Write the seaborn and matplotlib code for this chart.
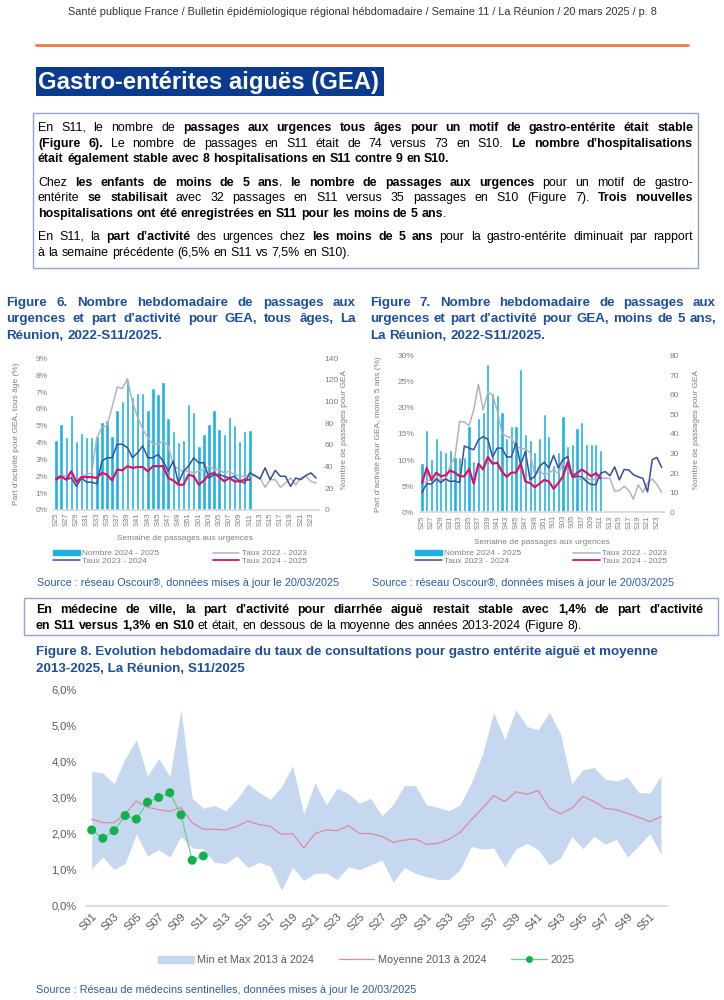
import matplotlib
matplotlib.use("Agg")
import matplotlib.pyplot as plt
import seaborn as sns
from matplotlib.patches import Rectangle, Patch
from matplotlib.lines import Line2D
from matplotlib.font_manager import FontProperties

W, H = 724, 1000

# ---------------- data ----------------
weeks_gea = [f"S{w:02d}" for w in list(range(25, 53)) + list(range(1, 25))]
weeks_sent = [f"S{w:02d}" for w in range(1, 53)]

# Figure 6 - tous ages
nb_tous = [65, 79, 67, 88, 64, 71, 67, 67, 68, 81, 83, 68, 92, 101, 120, 104, 108, 108, 92, 113,
           107, 118, 85, 73, 63, 65, 98, 90, 59, 70, 79, 92, 75, 70, 86, 78, 64, 73, 74]
taux_tous_2223 = [1.9, 2.1, 2.0, 1.9, 1.7, 2.0, 2.1, 2.2, 4.3, 4.9, 5.0, 6.1, 7.3, 7.2, 7.8, 6.4,
                  5.5, 4.8, 4.3, 3.9, 3.9, 4.1, 3.8, 2.7, 2.4, 2.3, 2.3, 2.2, 2.3, 2.4, 2.6, 2.4,
                  2.4, 2.2, 2.3, 2.1, 2.0, 2.0, 2.1, 2.0, 1.9, 1.35, 1.8, 1.8, 1.35, 1.6, 1.9, 1.5,
                  1.9, 2.0, 1.7, 1.6]
taux_tous_2324 = [1.9, 2.0, 1.8, 1.9, 1.4, 1.9, 1.65, 1.65, 1.55, 2.9, 3.1, 3.1, 3.9, 3.9, 3.7, 3.1,
                  3.4, 3.8, 3.1, 3.1, 3.3, 2.9, 2.3, 2.9, 1.6, 2.3, 2.6, 3.1, 2.8, 2.8, 1.9, 2.1,
                  2.1, 2.0, 1.9, 2.0, 1.7, 1.6, 2.2, 2.05, 1.85, 2.5, 1.8, 2.35, 2.0, 2.0, 1.4, 1.9,
                  1.8, 2.05, 2.2, 1.9]
taux_tous_2425 = [1.8, 2.0, 1.8, 2.3, 1.65, 1.95, 1.95, 1.95, 1.9, 2.2, 2.1, 1.75, 2.4, 2.35, 2.6,
                  2.5, 2.55, 2.55, 2.3, 2.6, 2.6, 2.6, 1.9, 1.75, 1.5, 1.5, 2.1, 2.0, 1.5, 1.75,
                  2.1, 2.2, 1.95, 1.7, 1.9, 1.7, 1.7, 1.8, 1.8]

# Figure 7 - moins de 5 ans
nb_m5 = [25, 42, 27, 38, 32, 31, 32, 28, 28, 28, 44, 26, 48, 51, 76, 61, 60, 51, 38, 44,
         44, 73, 40, 37, 31, 38, 50, 39, 24, 31, 49, 34, 35, 43, 46, 35, 35, 35, 32]
taux_m5_2223 = [5.5, 6.0, 6.3, 6.0, 6.6, 6.0, 9.0, 10.6, 17.4, 17.3, 16.6, 19.6, 24.5, 19.6, 23.0,
                22.5, 19.5, 15.2, 14.5, 14.3, 12.5, 12.3, 12.1, 11.5, 7.0, 8.0, 7.2, 7.5, 8.2,
                7.4, 9.5, 8.0, 7.0, 6.5, 6.3, 6.6, 6.2, 6.4, 6.6, 6.5, 6.5, 4.0, 4.2, 5.0, 4.2,
                2.5, 5.3, 3.8, 5.6, 6.4, 5.3, 3.8]
taux_m5_2324 = [3.8, 5.5, 5.4, 6.4, 5.7, 6.4, 5.9, 6.0, 5.7, 12.7, 12.3, 12.0, 13.9, 14.5, 14.0,
                10.6, 12.3, 12.3, 10.6, 10.6, 13.3, 9.1, 11.7, 6.2, 6.9, 8.8, 9.6, 8.5, 10.9, 8.5,
                10.1, 10.7, 6.7, 6.9, 6.8, 5.9, 5.3, 5.3, 7.5, 7.8, 7.0, 8.7, 6.2, 8.2, 8.1, 7.2,
                6.8, 6.5, 3.9, 10.1, 10.5, 8.6]
taux_m5_2425 = [5.6, 8.5, 6.2, 7.6, 6.9, 7.1, 8.0, 7.6, 6.9, 6.9, 8.3, 5.5, 9.3, 8.2, 10.6, 9.3,
                9.5, 7.8, 6.8, 7.6, 7.6, 9.3, 5.9, 5.6, 4.8, 5.5, 6.2, 5.9, 4.5, 5.6, 6.9, 9.6,
                6.9, 7.5, 8.2, 7.6, 6.9, 7.5, 6.5]

# Figure 8 - medecins sentinelles
sent_min = [1.03, 1.35, 1.0, 1.17, 1.99, 1.38, 1.55, 1.35, 1.92, 1.6, 1.57, 1.2, 1.17, 1.38, 1.06,
            1.2, 1.1, 0.43, 1.06, 0.7, 0.9, 0.9, 0.73, 1.08, 1.0, 1.13, 1.27, 0.65, 1.06, 0.9,
            0.8, 0.73, 0.73, 1.0, 1.64, 1.57, 1.6, 1.08, 1.57, 1.73, 1.55, 1.13, 1.32, 1.92,
            1.58, 1.92, 1.71, 1.84, 1.35, 1.66, 2.0, 1.43]
sent_max = [3.72, 3.68, 3.38, 4.08, 4.6, 3.6, 4.08, 3.58, 5.43, 2.98, 2.7, 2.78, 2.63, 2.95, 3.38,
            3.14, 2.95, 3.3, 3.88, 2.55, 3.4, 2.8, 3.26, 3.1, 2.84, 2.98, 2.49, 2.8, 3.33, 3.33,
            2.8, 2.73, 2.63, 2.8, 3.4, 4.19, 5.36, 4.6, 5.43, 4.97, 4.88, 5.36, 4.76, 3.38, 3.77,
            3.83, 3.51, 3.46, 3.56, 3.14, 3.12, 3.6]
sent_mean = [2.4, 2.3, 2.3, 2.55, 2.9, 2.73, 2.66, 2.62, 2.72, 2.3, 2.12, 2.12, 2.1, 2.2, 2.35,
             2.25, 2.2, 1.98, 2.0, 1.6, 2.0, 2.1, 2.08, 2.22, 2.0, 2.0, 1.92, 1.76, 1.82, 1.85,
             1.7, 1.73, 1.84, 2.03, 2.38, 2.7, 3.05, 2.89, 3.16, 3.09, 3.19, 2.7, 2.55, 2.7,
             3.03, 2.89, 2.7, 2.66, 2.56, 2.45, 2.33, 2.47]
sent_2025 = [2.1, 1.87, 2.08, 2.5, 2.4, 2.87, 3.0, 3.13, 2.52, 1.26, 1.38]

# ---------------- style ----------------
sns.set_theme(style="white")
ARIAL = ["Liberation Sans", "DejaVu Sans"]
plt.rcParams["font.family"] = ARIAL

CYAN = "#1db1e7"
GREY = "#b4b4b4"
DBLUE = "#34509c"
MAGENTA = "#d8136a"
TICK = "#7f7f7f"
TITLE_BLUE = "#1d4f9c"
SRC_BLUE = "#2a5ba6"
BORDER = "#8da5cf"

fig = plt.figure(figsize=(W / 100, H / 100), dpi=100)
renderer = fig.canvas.get_renderer()


def fx(x):
    return x / W


def fy(y):
    return 1 - y / H


def px_axes(left, top, right, bottom):
    return fig.add_axes([fx(left), fy(bottom), (right - left) / W, (bottom - top) / H])


def text_line(x0, y, parts, size, color="black", width=None):
    # parts = [(text, bold), ...]; justified to width when given
    props = {False: FontProperties(family=ARIAL, size=size),
             True: FontProperties(family=ARIAL, size=size, weight="bold")}
    words, cur = [], []
    for txt, bold in parts:
        buf = ""
        for ch in txt:
            if ch == " ":
                if buf:
                    cur.append((buf, bold))
                    buf = ""
                if cur:
                    words.append(cur)
                    cur = []
            else:
                buf += ch
        if buf:
            cur.append((buf, bold))
    if cur:
        words.append(cur)

    def wid(s, b):
        return renderer.get_text_width_height_descent(s, props[b], ismath=False)[0]

    ww = [sum(wid(s, b) for s, b in word) for word in words]
    gap = wid("a a", False) - wid("aa", False)
    if width is not None and len(words) > 1:
        gap = (width - sum(ww)) / (len(words) - 1)
    x = x0
    yb = y - 0.25  # keep pixel rounding identical for every fragment
    for word, w in zip(words, ww):
        xx = x
        for s, b in word:
            fig.text(fx(xx), fy(yb), s, fontproperties=props[b], color=color,
                     ha="left", va="baseline")
            xx += wid(s, b)
        x += w + gap


def box(left, top, right, bottom, **kw):
    fig.add_artist(Rectangle((fx(left), fy(bottom)), (right - left) / W, (bottom - top) / H,
                             transform=fig.transFigure, **kw))


# ---------------- header ----------------
fig.text(fx(362), fy(15), "Santé publique France / Bulletin épidémiologique régional hébdomadaire / "
         "Semaine 11 / La Réunion / 20 mars 2025 / p. 8", ha="center", va="baseline",
         fontsize=7.8, color="#333333")
fig.add_artist(Line2D([fx(36), fx(688)], [fy(45), fy(45)], color="#ee7a45", lw=2.0,
                      transform=fig.transFigure))

box(36, 67, 384, 96, facecolor="#0b3b8f", edgecolor="none")
fig.text(fx(38), fy(89), "Gastro-entérites aiguës (GEA)", color="white", fontsize=17.2,
         weight="bold", ha="left", va="baseline")

# ---------------- text box 1 ----------------
box(33, 113, 698, 268, facecolor="none", edgecolor=BORDER, lw=1)
TS = 8.9
L, R = 38, 693
text_line(L, 131, [("En S11, le nombre de ", False),
                   ("passages aux urgences tous âges pour un motif de gastro-entérite était stable", True)],
          TS, width=R - L)
text_line(L, 147, [("(Figure 6).", True),
                   (" Le nombre de passages en S11 était de 74 versus 73 en S10. ", False),
                   ("Le nombre d’hospitalisations", True)], TS, width=R - L)
text_line(L, 162, [("était également stable avec 8 hospitalisations en S11 contre 9 en S10.", True)], TS)
text_line(L, 186, [("Chez ", False), ("les enfants de moins de 5 ans", True), (", ", False),
                   ("le nombre de passages aux urgences", True),
                   (" pour un motif de gastro-", False)], TS, width=R - L)
text_line(L, 201, [("entérite ", False), ("se stabilisait", True),
                   (" avec 32 passages en S11 versus 35 passages en S10 (Figure 7). ", False),
                   ("Trois nouvelles", True)], TS, width=R - L)
text_line(L, 217, [("hospitalisations ont été enregistrées en S11 pour les moins de 5 ans", True),
                   (".", False)], TS)
text_line(L, 240, [("En S11, la ", False), ("part d’activité", True), (" des urgences chez ", False),
                   ("les moins de 5 ans", True),
                   (" pour la gastro-entérite diminuait par rapport", False)], TS, width=R - L)
text_line(L, 256, [("à la semaine précédente (6,5% en S11 vs 7,5% en S10).", False)], TS)

# ---------------- figure titles ----------------
FS = 9.6
text_line(6, 306, [("Figure 6. Nombre hebdomadaire de passages aux", True)], FS, TITLE_BLUE, 350)
text_line(6, 322, [("urgences et part d’activité pour GEA, tous âges, La", True)], FS, TITLE_BLUE, 350)
text_line(6, 339, [("Réunion, 2022-S11/2025.", True)], FS, TITLE_BLUE)
text_line(370, 306, [("Figure 7. Nombre hebdomadaire de passages aux", True)], FS, TITLE_BLUE, 346)
text_line(370, 322, [("urgences et part d’activité pour GEA, moins de 5 ans,", True)], FS, TITLE_BLUE, 346)
text_line(370, 339, [("La Réunion, 2022-S11/2025.", True)], FS, TITLE_BLUE)


# ---------------- GEA charts ----------------
def gea_chart(left, top, right, bottom, counts, t2223, t2324, t2425, pmax, pstep, cmax, cstep,
              ylab_left, xl_left, xl_right, xlab_x, xlab_y, leg_x, leg_y, colspace):
    ax = px_axes(left, top, right, bottom)
    sns.barplot(x=list(range(len(counts))), y=counts, ax=ax, color=CYAN, saturation=1,
                width=0.68, zorder=1)
    ax.set_xlim(-0.5, len(weeks_gea) - 0.5)
    ax.set_ylim(0, cmax)
    axl = ax.twinx()
    sns.lineplot(x=list(range(len(t2223))), y=t2223, ax=axl, color=GREY, lw=1.1)
    sns.lineplot(x=list(range(len(t2324))), y=t2324, ax=axl, color=DBLUE, lw=1.1)
    sns.lineplot(x=list(range(len(t2425))), y=t2425, ax=axl, color=MAGENTA, lw=1.6)
    axl.set_ylim(0, pmax)
    axl.set_xlim(-0.5, len(weeks_gea) - 0.5)

    ax.yaxis.tick_right()
    axl.yaxis.tick_left()
    ax.set_yticks(range(0, cmax + 1, cstep))
    ax.set_yticklabels([str(v) for v in range(0, cmax + 1, cstep)])
    pticks = list(range(0, pmax + 1, pstep))
    axl.set_yticks(pticks)
    axl.set_yticklabels([f"{v}%" for v in pticks])
    ax.set_xticks(range(0, len(weeks_gea), 2))
    ax.set_xticklabels(weeks_gea[::2], rotation=90)
    for a in (ax, axl):
        a.set_xlabel("")
        a.set_ylabel("")
        for s in a.spines.values():
            s.set_visible(False)
        a.tick_params(length=0, labelsize=6, colors=TICK, pad=4)
    ax.tick_params(axis="x", labelsize=5.5, pad=2)
    ax.spines["bottom"].set_visible(True)
    ax.spines["bottom"].set_color("#d9d9d9")

    fig.text(fx(xl_left), fy((top + bottom) / 2), ylab_left, rotation=90, ha="center",
             va="center", fontsize=6, color=TICK)
    fig.text(fx(xl_right), fy((top + bottom) / 2 - 5), "Nombre de passages pour GEA", rotation=90,
             ha="center", va="center", fontsize=6, color=TICK)
    fig.text(fx(xlab_x), fy(xlab_y), "Semaine de passages aux urgences", ha="center",
             va="center", fontsize=6, color=TICK)

    handles = [Patch(color=CYAN), Line2D([], [], color=DBLUE, lw=1.1),
               Line2D([], [], color=GREY, lw=1.1), Line2D([], [], color=MAGENTA, lw=1.3)]
    labels = ["Nombre 2024 - 2025", "Taux 2023 - 2024", "Taux 2022 - 2023", "Taux 2024 - 2025"]
    fig.legend(handles, labels, loc="upper left", bbox_to_anchor=(fx(leg_x), fy(leg_y)),
               ncol=2, frameon=False, fontsize=6, handlelength=3.2, handleheight=0.5,
               columnspacing=colspace, labelspacing=0.05, handletextpad=0.3,
               borderaxespad=0, borderpad=0, labelcolor=TICK)


gea_chart(53.5, 358.3, 318.6, 510, nb_tous, taux_tous_2223, taux_tous_2324, taux_tous_2425,
          9, 1, 140, 20, "Part d’activité pour GEA, tous âge (%)", 17, 345, 185, 539, 53, 550, 6.4)
gea_chart(419.7, 355.7, 664, 512.3, nb_m5, taux_m5_2223, taux_m5_2324, taux_m5_2425,
          30, 5, 80, 10, "Part d’activité pour GEA, moins 5 ans (%)", 379, 696, 542, 542, 415, 550, 6.2)

fig.text(fx(37), fy(586), "Source : réseau Oscour®, données mises à jour le 20/03/2025",
         ha="left", va="baseline", fontsize=7.8, color=SRC_BLUE)
fig.text(fx(372), fy(586), "Source : réseau Oscour®, données mises à jour le 20/03/2025",
         ha="left", va="baseline", fontsize=7.8, color=SRC_BLUE)

# ---------------- text box 2 ----------------
box(24, 598, 718, 635, facecolor="none", edgecolor=BORDER, lw=1)
text_line(36, 613, [("En médecine de ville, la part d’activité pour diarrhée aiguë restait stable "
                     "avec 1,4% de part d’activité", True)], TS, width=667)
text_line(36, 629, [("en S11 versus 1,3% en S10", True),
                    (" et était, en dessous de la moyenne des années 2013-2024 (Figure 8).", False)], TS)

# ---------------- figure 8 ----------------
fig.text(fx(36), fy(655), "Figure 8. Evolution hebdomadaire du taux de consultations pour gastro "
         "entérite aiguë et moyenne", fontsize=9.6, weight="bold", color=TITLE_BLUE, va="baseline")
fig.text(fx(36), fy(672), "2013-2025, La Réunion, S11/2025", fontsize=9.6, weight="bold",
         color=TITLE_BLUE, va="baseline")

BAND = "#c6d8ef"
MEAN = "#dc8c9c"
GREEN = "#12b14f"
GREEN_L = "#6fcc93"

ax8 = px_axes(86.1, 689.3, 666.6, 905.7)
xs = list(range(len(weeks_sent)))
ax8.fill_between(xs, sent_min, sent_max, color=BAND, lw=0)
sns.lineplot(x=xs, y=sent_mean, ax=ax8, color=MEAN, lw=0.9)
x25 = list(range(len(sent_2025)))
sns.lineplot(x=x25, y=sent_2025, ax=ax8, color=GREEN_L, lw=0.9)
sns.scatterplot(x=x25, y=sent_2025, ax=ax8, color=GREEN, s=42, edgecolor="none", zorder=5)
ax8.set_xlim(-0.5, len(weeks_sent) - 0.5)
ax8.set_ylim(0, 6)
ax8.set_yticks([0, 1, 2, 3, 4, 5, 6])
ax8.set_yticklabels([f"{v},0%" for v in range(7)])
ax8.set_xticks(range(0, 52, 2))
ax8.set_xticklabels(weeks_sent[::2], rotation=45, ha="right", va="top", rotation_mode="anchor")
for s in ax8.spines.values():
    s.set_visible(False)
ax8.spines["bottom"].set_visible(True)
ax8.spines["bottom"].set_color("#d9d9d9")
ax8.tick_params(length=0, labelsize=8, colors="#595959")
ax8.tick_params(axis="y", pad=7)
ax8.tick_params(axis="x", pad=4)

h8 = [Patch(color=BAND), Line2D([], [], color=MEAN, lw=0.9),
      Line2D([], [], color=GREEN_L, lw=0.9, marker="o", markersize=4,
             markerfacecolor=GREEN, markeredgecolor=GREEN)]
fig.legend(h8, ["Min et Max 2013 à 2024", "Moyenne 2013 à 2024", "2025"], loc="center",
           bbox_to_anchor=(fx(366), fy(960)), ncol=3, frameon=False, fontsize=7.8,
           handlelength=3.3, handleheight=0.6, columnspacing=2.3, handletextpad=0.3,
           labelcolor="#595959")

fig.text(fx(36), fy(993), "Source : Réseau de médecins sentinelles, données mises à jour le 20/03/2025",
         fontsize=7.8, color=SRC_BLUE, va="baseline")

fig.savefig("out.png", dpi=100)
